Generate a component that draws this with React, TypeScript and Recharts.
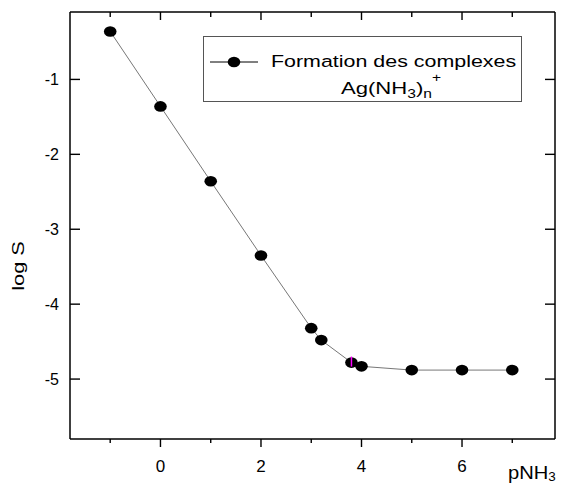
import { LineChart, Line, XAxis, YAxis, Legend, Label } from 'recharts'

// pNH3 values (x) and log S values (y)
const pNH3 = [-1, 0, 1, 2, 3, 3.2, 3.8, 4, 5, 6, 7]
const logS = [-0.36, -1.36, -2.36, -3.35, -4.32, -4.48, -4.78, -4.83, -4.88, -4.88, -4.88]

const xTicks = [-1, 0, 1, 2, 3, 4, 5, 6, 7]
const yTicks = [-5, -4, -3, -2, -1]
const xDomain = [-1.8, 7.85]
const yDomain = [-5.8, -0.1]

const seriesName = 'Formation des complexes'
const markedPoint = 3.8

const data = pNH3.map((x, i) => ({ x, y: logS[i] }))

const FONT = 'Liberation Sans, Arial, sans-serif'
const axisLine = { stroke: '#000', strokeWidth: 1.5 }

const isMajor = (v: number) => v % 2 === 0

const BottomTick = ({ x, y, payload }: any) => (
  <g>
    <line x1={x} x2={x} y1={y} y2={y + (isMajor(payload.value) ? 8 : 4)} stroke="#000" strokeWidth={1.4} />
    {isMajor(payload.value) && (
      <text x={x} y={y + 33} textAnchor="middle" fontSize={17} fontFamily={FONT} fill="#000">
        {payload.value}
      </text>
    )}
  </g>
)

const TopTick = ({ x, y, payload }: any) => (
  <line x1={x} x2={x} y1={y} y2={y + (isMajor(payload.value) ? 8 : 5)} stroke="#000" strokeWidth={1.4} />
)

const LeftTick = ({ x, y, payload }: any) => (
  <g>
    <line x1={x} x2={x + 10} y1={y} y2={y} stroke="#000" strokeWidth={1.4} />
    <text x={x - 11} y={y} dy="0.36em" textAnchor="end" fontSize={16} fontFamily={FONT} fill="#000">
      {payload.value}
    </text>
  </g>
)

const RightTick = ({ x, y }: any) => (
  <line x1={x - 10} x2={x} y1={y} y2={y} stroke="#000" strokeWidth={1.4} />
)

const Dot = (props: any) => {
  const { cx, cy, payload, index } = props
  if (cx == null || cy == null) return <g key={index} />
  return (
    <g key={index}>
      <ellipse cx={cx} cy={cy} rx={6.3} ry={5.3} fill="#000" />
      {payload.x === markedPoint && (
        <line x1={cx} x2={cx} y1={cy - 6} y2={cy + 4} stroke="#ff00ff" strokeWidth={1.5} />
      )}
    </g>
  )
}

const LegendBox = () => (
  <svg width={320} height={67} style={{ display: 'block' }}>
    <rect x={0.5} y={0.5} width={318} height={65} fill="#fff" stroke="#555" strokeWidth={1} />
    <line x1={7} x2={55} y1={26} y2={26} stroke="#000" strokeWidth={1} />
    <ellipse cx={31} cy={26} rx={6.3} ry={5.3} fill="#000" />
    <text transform="translate(68,31.3) scale(1.26,1)" fontSize={17} fontFamily={FONT} fill="#000">
      {seriesName}
    </text>
    <text transform="translate(138,58.3) scale(1.3,1)" fontSize={17} fontFamily={FONT} fill="#000">
      Ag(NH
      <tspan fontSize={12} dy={4}>3</tspan>
      <tspan dy={-4}>)</tspan>
      <tspan fontSize={12} dy={4}>n</tspan>
      <tspan fontSize={12} dy={-16}>+</tspan>
    </text>
  </svg>
)

export default function App() {
  return (
    <div style={{ position: 'absolute', left: 0, top: 0, background: '#fff' }}>
      <LineChart width={562} height={484} data={data} margin={{ top: 0, right: 0, bottom: 0, left: 0 }}>
        <XAxis
          xAxisId="bottom"
          dataKey="x"
          type="number"
          orientation="bottom"
          domain={xDomain}
          ticks={xTicks}
          interval={0}
          allowDataOverflow
          height={45}
          tickSize={0}
          tickMargin={0}
          tickLine={false}
          axisLine={axisLine}
          tick={<BottomTick />}
        >
          <Label
            content={() => (
              <text transform="translate(508,479) scale(1.12,1)" fontSize={18} fontFamily={FONT} fill="#000">
                <tspan>pNH</tspan>
                <tspan fontSize={12} dy={2}>3</tspan>
              </text>
            )}
          />
        </XAxis>
        <XAxis
          xAxisId="top"
          dataKey="x"
          type="number"
          orientation="top"
          domain={xDomain}
          ticks={xTicks}
          interval={0}
          allowDataOverflow
          height={12}
          tickSize={0}
          tickMargin={0}
          tickLine={false}
          axisLine={axisLine}
          tick={<TopTick />}
        />
        <YAxis
          yAxisId="left"
          dataKey="y"
          type="number"
          orientation="left"
          domain={yDomain}
          ticks={yTicks}
          interval={0}
          allowDataOverflow
          width={70}
          tickSize={0}
          tickMargin={0}
          tickLine={false}
          axisLine={axisLine}
          tick={<LeftTick />}
        >
          <Label
            content={() => (
              <text
                transform="translate(24,266) rotate(-90) scale(1.28,1)"
                textAnchor="middle"
                fontSize={17}
                fontFamily={FONT}
                fill="#000"
              >
                log S
              </text>
            )}
          />
        </YAxis>
        <YAxis
          yAxisId="right"
          dataKey="y"
          type="number"
          orientation="right"
          domain={yDomain}
          ticks={yTicks}
          interval={0}
          allowDataOverflow
          width={7}
          tickSize={0}
          tickMargin={0}
          tickLine={false}
          axisLine={axisLine}
          tick={<RightTick />}
        />
        <Legend
          layout="vertical"
          align="center"
          verticalAlign="middle"
          content={<LegendBox />}
          wrapperStyle={{ left: 203, top: 36, width: 320, height: 67 }}
        />
        <Line
          xAxisId="bottom"
          yAxisId="left"
          dataKey="y"
          name={seriesName}
          type="linear"
          stroke="#777"
          strokeWidth={1}
          dot={Dot}
          activeDot={false}
          isAnimationActive={false}
        />
      </LineChart>
    </div>
  )
}
